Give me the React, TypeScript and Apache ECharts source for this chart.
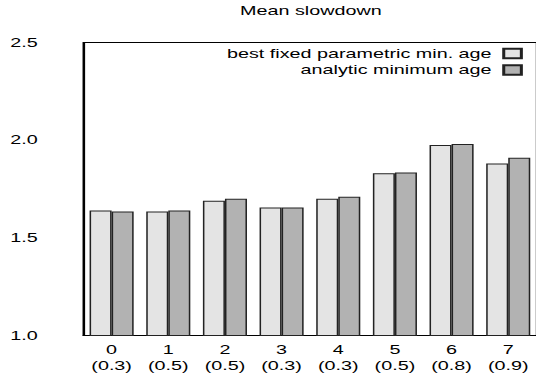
import React, { useEffect, useRef } from "react";
import * as echarts from "echarts";

const categories = ["0", "1", "2", "3", "4", "5", "6", "7"];
const params = ["0.3", "0.5", "0.5", "0.3", "0.3", "0.5", "0.8", "0.9"];
const bestFixed = [1.64, 1.635, 1.69, 1.655, 1.7, 1.83, 1.975, 1.88];
const analytic = [1.635, 1.64, 1.7, 1.655, 1.71, 1.835, 1.98, 1.91];
const yTicks = { min: 1.0, max: 2.5, interval: 0.5 };

const STRETCH = 1.52;
const FULL_W = 536;
const FULL_H = 380;
const W = FULL_W / STRETCH;
const FONT = "'Liberation Sans', Arial, Helvetica, sans-serif";

export default function App() {
  const ref = useRef<HTMLDivElement>(null);
  useEffect(() => {
    if (!ref.current) return;
    const chart = echarts.init(ref.current, null, { renderer: "svg" });
    const border = { borderColor: "#222", borderWidth: 1 };
    chart.setOption({
      animation: false,
      backgroundColor: "#fff",
      textStyle: { fontFamily: FONT, color: "#000" },
      graphic: [
        {
          type: "text",
          x: 204.5,
          y: 11,
          style: {
            text: "Mean slowdown",
            align: "center",
            verticalAlign: "middle",
            font: `13px ${FONT}`,
            fill: "#000",
          },
        },
      ],
      legend: {
        orient: "vertical",
        align: "right",
        right: 9,
        top: 47,
        padding: 0,
        itemWidth: 11.6,
        itemHeight: 9.5,
        itemGap: 3.5,
        icon: "rect",
        textStyle: {
          fontFamily: FONT,
          fontSize: 13,
          color: "#000",
          lineHeight: 13,
          padding: [0, 3, 0, 0],
        },
        data: ["best fixed parametric min. age", "analytic minimum age"],
      },
      grid: {
        left: 54.8,
        right: -1.2,
        top: 42.5,
        bottom: 44.5,
        show: true,
        borderColor: "#000",
        borderWidth: 1,
        containLabel: false,
      },
      xAxis: {
        type: "category",
        data: categories,
        axisLine: { lineStyle: { color: "#000", width: 1 } },
        axisTick: { show: false },
        axisLabel: {
          fontFamily: FONT,
          fontSize: 13,
          color: "#000",
          lineHeight: 16,
          margin: 6,
          formatter: (v: string, i: number) => `${v}\n(${params[i]})`,
        },
      },
      yAxis: {
        type: "value",
        min: yTicks.min,
        max: yTicks.max,
        interval: yTicks.interval,
        splitLine: { show: false },
        axisTick: { show: false },
        axisLine: { show: true, lineStyle: { color: "#000", width: 1 } },
        axisLabel: {
          fontFamily: FONT,
          fontSize: 13,
          color: "#000",
          align: "left",
          margin: 48,
          formatter: (v: number) => v.toFixed(1),
        },
      },
      series: [
        {
          name: "best fixed parametric min. age",
          type: "bar",
          data: bestFixed,
          barWidth: 14.5,
          barGap: "0%",
          itemStyle: { color: "#e4e4e4", ...border },
        },
        {
          name: "analytic minimum age",
          type: "bar",
          data: analytic,
          barWidth: 14.5,
          barGap: "0%",
          itemStyle: { color: "#b2b2b2", ...border },
        },
      ],
    });
    return () => chart.dispose();
  }, []);

  return (
    <div
      style={{
        position: "fixed",
        left: 0,
        top: 0,
        width: FULL_W,
        height: FULL_H,
        overflow: "hidden",
        background: "#fff",
      }}
    >
      <div
        ref={ref}
        style={{
          width: W,
          height: FULL_H,
          transform: `scaleX(${STRETCH})`,
          transformOrigin: "0 0",
        }}
      />
    </div>
  );
}
